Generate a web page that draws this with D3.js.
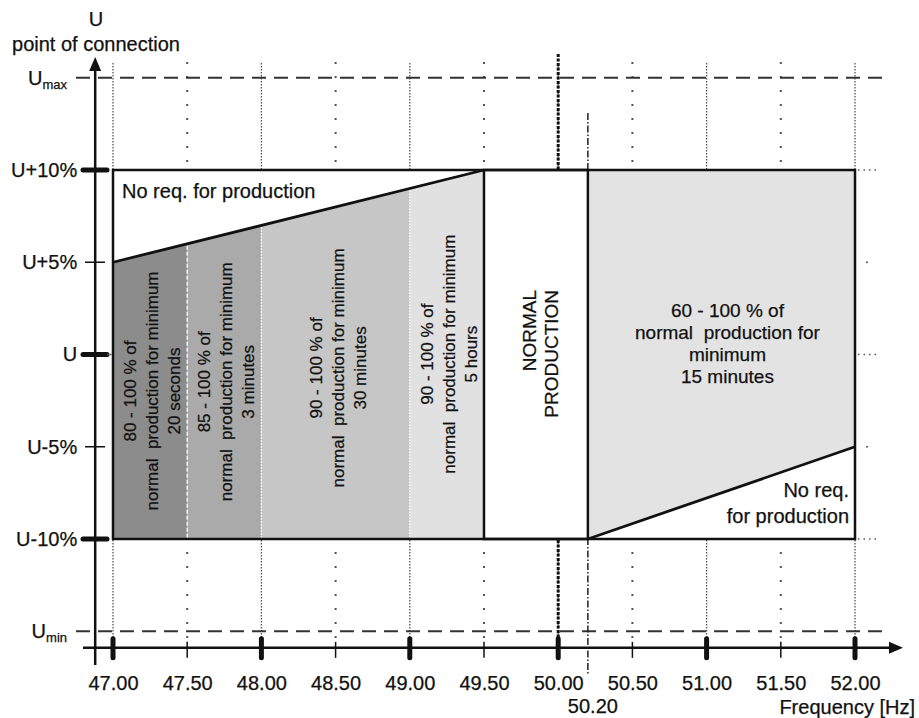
<!DOCTYPE html>
<html>
<head>
<meta charset="utf-8">
<script src="https://cdn.jsdelivr.net/npm/d3@7"></script>
<style>
body { margin: 0; background: #fff; }
text { font-family: "Liberation Sans", Arial, sans-serif; fill: #111; stroke: #111; stroke-width: 0.25px; white-space: pre; }
</style>
</head>
<body>
<div id="chart"></div>
<script>
// frequency axis (Hz)
var freqTicks = [47, 47.5, 48, 48.5, 49, 49.5, 50, 50.5, 51, 51.5, 52];
var freqMajor = [47, 48, 49, 50, 51, 52];
var freqNominal = 50;
var freqSplit = 50.2;
var freqSplitLabel = "50.20";
var freqNormalStart = 49.5;

// voltage at point of connection, % around U
var voltTicks = [10, 5, 0, -5, -10];
var voltLabels = ["U+10%", "U+5%", "U", "U-5%", "U-10%"];
var voltMajor = [10, 0, -10];
var uMax = 15, uMin = -15;

// under-frequency bands
var bandEdges = [47, 47.5, 48, 49, 49.5];
var bandTexts = [
    ["80 - 100 % of", "normal  production for minimum", "20 seconds"],
    ["85 - 100 % of", "normal  production for minimum", "3 minutes"],
    ["90 - 100 % of", "normal  production for minimum", "30 minutes"],
    ["90 - 100 % of", "normal  production for minimum", "5 hours"]
];
// upper voltage limit on the under-frequency side
var lowSideLimit = [{ f: 47, u: 5 }, { f: 49.5, u: 10 }];
// lower voltage limit on the over-frequency side
var highSideLimit = [{ f: 50.2, u: -10 }, { f: 52, u: -5 }];
var highSideText = ["60 - 100 % of", "normal  production for", "minimum", "15 minutes"];
var noReqTop = "No req. for production";
var noReqBottom = ["No req.", "for production"];
var normalText = ["NORMAL", "PRODUCTION"];

var bandFills = ["#8c8c8c", "#aaaaaa", "#c6c6c6", "#e1e1e1"];
var highFill = "#e3e3e3";

var width = 919, height = 718;
var svg = d3.select("#chart").append("svg")
    .attr("width", width)
    .attr("height", height);

var x = d3.scaleLinear().domain([47, 52]).range([113, 855]);
var y = d3.scaleLinear().domain([-10, 10]).range([539, 170]);

var lowLim = d3.scaleLinear()
    .domain(lowSideLimit.map(function (d) { return d.f; }))
    .range(lowSideLimit.map(function (d) { return d.u; }));

var axisY = y(-15.9),
    axisX = x(46.88);

// vertical grid
freqTicks.forEach(function (f) {
    var major = freqMajor.indexOf(f) >= 0;
    svg.append("line")
        .attr("x1", x(f)).attr("x2", x(f))
        .attr("y1", major ? 63 : 62).attr("y2", axisY - 4)
        .attr("stroke", "#555")
        .attr("stroke-width", major ? 1.3 : 2)
        .attr("stroke-dasharray", major ? "1.5,1.5" : "2,12");
});

// Umax / Umin
[uMax, uMin].forEach(function (u) {
    svg.append("line")
        .attr("x1", 76).attr("x2", 882)
        .attr("y1", y(u)).attr("y2", y(u))
        .attr("stroke", "#333")
        .attr("stroke-width", 2)
        .attr("stroke-dasharray", "14,8");
});

// 50.00 and 50.20 markers
svg.append("line")
    .attr("x1", x(freqNominal)).attr("x2", x(freqNominal))
    .attr("y1", 54).attr("y2", axisY - 3)
    .attr("stroke", "#111")
    .attr("stroke-width", 3)
    .attr("stroke-dasharray", "3,1.5");
svg.append("line")
    .attr("x1", x(freqSplit)).attr("x2", x(freqSplit))
    .attr("y1", 113).attr("y2", 675)
    .attr("stroke", "#222")
    .attr("stroke-width", 1.5)
    .attr("stroke-dasharray", "7,2,1.5,2");

// box background
svg.append("rect")
    .attr("x", x(47)).attr("y", y(10))
    .attr("width", x(52) - x(47))
    .attr("height", y(-10) - y(10))
    .attr("fill", "#fff");

// under-frequency bands
var line = d3.line()
    .x(function (d) { return x(d[0]); })
    .y(function (d) { return y(d[1]); });

for (let i = 0; i < bandEdges.length - 1; i++) {
    let f0 = bandEdges[i], f1 = bandEdges[i + 1];
    svg.append("path")
        .attr("d", line([[f0, -10], [f0, lowLim(f0)], [f1, lowLim(f1)], [f1, -10]]) + "Z")
        .attr("fill", bandFills[i]);
}
for (let i = 1; i < bandEdges.length - 1; i++) {
    let f = bandEdges[i];
    svg.append("line")
        .attr("x1", x(f)).attr("x2", x(f))
        .attr("y1", y(lowLim(f)) + 2).attr("y2", y(-10) - 1)
        .attr("stroke", "#fff")
        .attr("stroke-width", 1.3)
        .attr("stroke-dasharray", i == 1 ? "4,2" : "1.5,1.5");
}

// over-frequency region
svg.append("path")
    .attr("d", line([[highSideLimit[0].f, 10], [highSideLimit[1].f, 10],
        [highSideLimit[1].f, highSideLimit[1].u], [highSideLimit[0].f, highSideLimit[0].u]]) + "Z")
    .attr("fill", highFill);

// normal production box
svg.append("rect")
    .attr("x", x(freqNormalStart)).attr("y", y(10))
    .attr("width", x(freqSplit) - x(freqNormalStart))
    .attr("height", y(-10) - y(10))
    .attr("fill", "#fff")
    .attr("stroke", "#111")
    .attr("stroke-width", 2.5);

// limit lines
svg.append("path")
    .attr("d", line(lowSideLimit.map(function (d) { return [d.f, d.u]; })))
    .attr("fill", "none").attr("stroke", "#111").attr("stroke-width", 2.8);
svg.append("path")
    .attr("d", line(highSideLimit.map(function (d) { return [d.f, d.u]; })))
    .attr("fill", "none").attr("stroke", "#111").attr("stroke-width", 2.8);

// outer box
svg.append("rect")
    .attr("x", x(47)).attr("y", y(10))
    .attr("width", x(52) - x(47))
    .attr("height", y(-10) - y(10))
    .attr("fill", "none")
    .attr("stroke", "#111")
    .attr("stroke-width", 2.5);

// band texts (rotated)
bandTexts.forEach(function (lines, i) {
    let fm = (bandEdges[i] + bandEdges[i + 1]) / 2;
    let cx = x(fm) + 2;
    let cy = (y(lowLim(fm)) + y(-10)) / 2 - 5;
    let g = svg.append("g")
        .attr("transform", "translate(" + cx + "," + cy + ") rotate(-90)");
    lines.forEach(function (t, j) {
        g.append("text")
            .attr("x", 0)
            .attr("y", (j - 1) * 22)
            .attr("dy", "0.35em")
            .attr("text-anchor", "middle")
            .attr("font-size", 17)
            .text(t);
    });
});

// normal production text
var gN = svg.append("g")
    .attr("transform", "translate(" + ((x(freqNormalStart) + x(freqSplit)) / 2 + 4) + "," + y(3.5) + ") rotate(-90)");
normalText.forEach(function (t, j) {
    gN.append("text")
        .attr("x", 0)
        .attr("y", (j - 0.5) * 22)
        .attr("dy", "0.35em")
        .attr("text-anchor", "end")
        .attr("font-size", 19)
        .text(t);
});

// over-frequency text
highSideText.forEach(function (t, j) {
    svg.append("text")
        .attr("x", (x(highSideLimit[0].f) + x(highSideLimit[1].f)) / 2 + 6)
        .attr("y", y(0.6) + (j - 1.5) * 22)
        .attr("dy", "0.35em")
        .attr("text-anchor", "middle")
        .attr("font-size", 19)
        .text(t);
});

svg.append("text")
    .attr("x", x(47) + 9)
    .attr("y", y(10) + 28)
    .attr("font-size", 20)
    .text(noReqTop);

noReqBottom.forEach(function (t, j) {
    svg.append("text")
        .attr("x", x(52) - 6)
        .attr("y", 497 + j * 26)
        .attr("text-anchor", "end")
        .attr("font-size", 20)
        .text(t);
});

// axes
svg.append("line")
    .attr("x1", 83).attr("x2", 892)
    .attr("y1", axisY).attr("y2", axisY)
    .attr("stroke", "#111").attr("stroke-width", 2.5);
svg.append("path")
    .attr("d", "M" + 903 + "," + axisY + "L" + 889 + "," + (axisY - 6) + "L" + 889 + "," + (axisY + 6) + "Z")
    .attr("fill", "#111");
svg.append("line")
    .attr("x1", axisX).attr("x2", axisX)
    .attr("y1", 665).attr("y2", 68)
    .attr("stroke", "#111").attr("stroke-width", 2.5);
svg.append("path")
    .attr("d", "M" + axisX + "," + 57 + "L" + (axisX - 6) + "," + 71 + "L" + (axisX + 6) + "," + 71 + "Z")
    .attr("fill", "#111");

// x ticks
freqTicks.forEach(function (f) {
    var major = freqMajor.indexOf(f) >= 0;
    svg.append("line")
        .attr("x1", x(f)).attr("x2", x(f))
        .attr("y1", major ? axisY - 9 : axisY - 6)
        .attr("y2", axisY + 10)
        .attr("stroke", "#111")
        .attr("stroke-width", major ? 5 : 1.5)
        .attr("stroke-linecap", major ? "round" : "butt");
});
var xAxis = svg.append("g")
    .attr("transform", "translate(0," + axisY + ")")
    .call(d3.axisBottom(x).tickValues(freqTicks).tickFormat(d3.format(".2f")).tickSize(0).tickPadding(28));
xAxis.select(".domain").remove();
xAxis.selectAll("text")
    .attr("font-size", 20)
    .attr("font-family", null)
    .attr("fill", null);

svg.append("text")
    .attr("x", x(freqSplit) + 5)
    .attr("y", 713)
    .attr("text-anchor", "middle")
    .attr("font-size", 20)
    .text(freqSplitLabel);
svg.append("text")
    .attr("x", 915)
    .attr("y", 714)
    .attr("text-anchor", "end")
    .attr("font-size", 20)
    .text("Frequency [Hz]");

// y ticks
voltTicks.forEach(function (u) {
    var major = voltMajor.indexOf(u) >= 0;
    svg.append("line")
        .attr("x1", major ? 83 : 85).attr("x2", major ? 107 : 105)
        .attr("y1", y(u)).attr("y2", y(u))
        .attr("stroke", "#111")
        .attr("stroke-width", major ? 5 : 1.5)
        .attr("stroke-linecap", major ? "round" : "butt");
});
var yAxis = svg.append("g")
    .attr("transform", "translate(" + axisX + ",0)")
    .call(d3.axisLeft(y).tickValues(voltTicks)
        .tickFormat(function (d, i) { return voltLabels[i]; })
        .tickSize(0).tickPadding(18));
yAxis.select(".domain").remove();
yAxis.selectAll("text")
    .attr("font-size", 20)
    .attr("font-family", null)
    .attr("fill", null);

// Umax / Umin labels
[["max", uMax], ["min", uMin]].forEach(function (d) {
    var t = svg.append("text")
        .attr("x", 67)
        .attr("y", y(d[1]) + 7)
        .attr("text-anchor", "end")
        .attr("font-size", 20)
        .text("U");
    t.append("tspan")
        .attr("dy", 4)
        .attr("font-size", 13)
        .text(d[0]);
});

// axis title
svg.append("text")
    .attr("x", 96).attr("y", 26)
    .attr("text-anchor", "middle")
    .attr("font-size", 20)
    .text("U");
svg.append("text")
    .attr("x", 96).attr("y", 51)
    .attr("text-anchor", "middle")
    .attr("font-size", 20)
    .text("point of connection");

// dotted extensions right of the box
voltTicks.forEach(function (u) {
    if (voltMajor.indexOf(u) >= 0) {
        svg.append("line")
            .attr("x1", x(52) + 3).attr("x2", 880)
            .attr("y1", y(u)).attr("y2", y(u))
            .attr("stroke", "#555")
            .attr("stroke-width", 1.5)
            .attr("stroke-dasharray", "1.5,4");
    } else {
        svg.append("circle")
            .attr("cx", 867).attr("cy", y(u))
            .attr("r", 1)
            .attr("fill", "#555");
    }
});
svg.append("line")
    .attr("x1", 107).attr("x2", x(47))
    .attr("y1", y(0)).attr("y2", y(0))
    .attr("stroke", "#555")
    .attr("stroke-width", 1.3)
    .attr("stroke-dasharray", "1.5,1.5");
</script>
</body>
</html>
